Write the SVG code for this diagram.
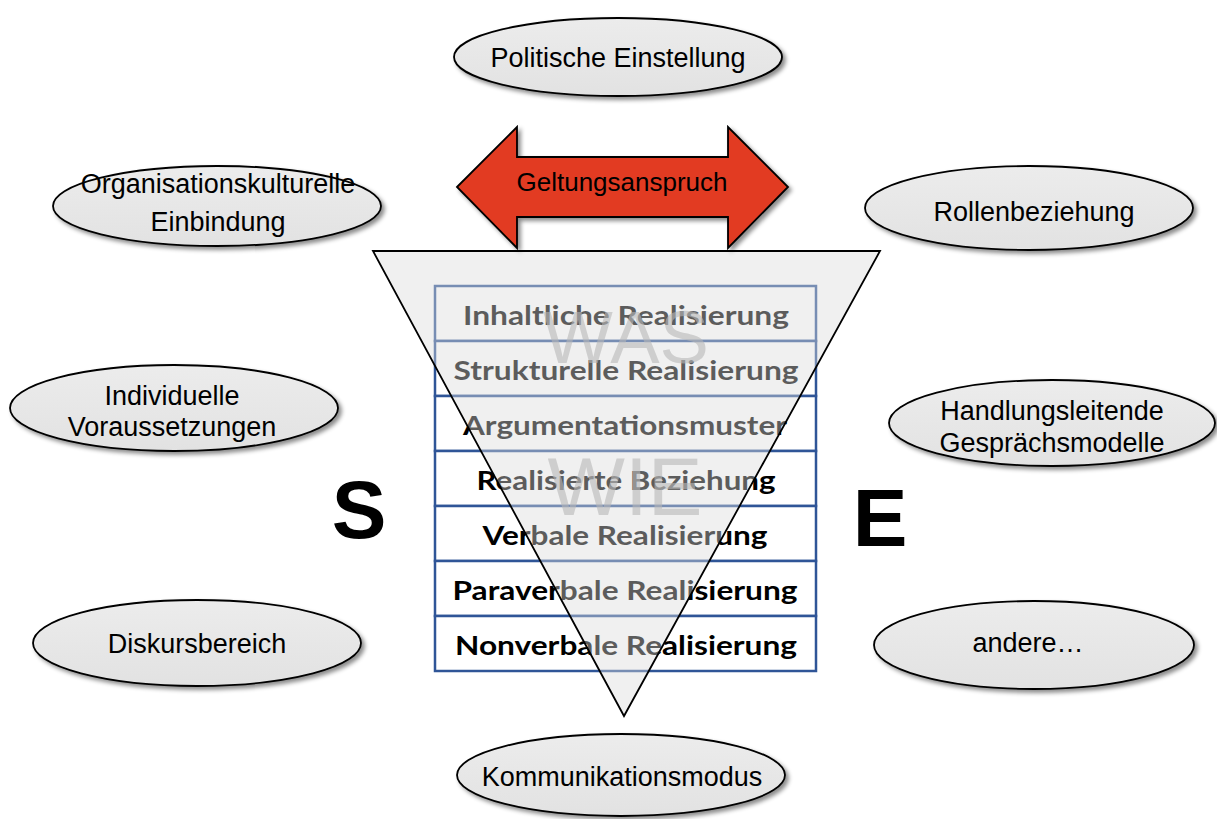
<svg xmlns="http://www.w3.org/2000/svg" width="1217" height="819" viewBox="0 0 1217 819">
  <defs>
    <filter id="shadow" x="-10%" y="-20%" width="125%" height="150%">
      <feDropShadow dx="3" dy="3" stdDeviation="2" flood-color="#000" flood-opacity="0.45"/>
    </filter>
    <linearGradient id="ellFill" x1="0" y1="0" x2="0" y2="1">
      <stop offset="0" stop-color="#ececec"/>
      <stop offset="1" stop-color="#e2e2e2"/>
    </linearGradient>
    <style>
      .ell { fill: url(#ellFill); stroke: #000; stroke-width: 1.8; filter: url(#shadow); }
      .lbl { font-family: "Liberation Sans", Arial, sans-serif; font-size: 27px; fill: #000; text-anchor: middle; }
      .big { font-family: "Liberation Sans", Arial, sans-serif; font-weight: bold; font-size: 82px; fill: #000; text-anchor: middle; }
      .cell { fill: #fff; stroke: #2f5597; stroke-width: 2.5; }
      .ctext { font-family: Lato, "Open Sans", sans-serif; font-weight: bold; font-size: 27px; fill: #000; text-anchor: middle; }
      .wm { font-family: "Liberation Sans", Arial, sans-serif; fill: #b8b8b8; fill-opacity: 0.6; text-anchor: middle; }
    </style>
  </defs>

  <g id="connectors"/>

  <g id="politische-einstellung">
    <ellipse class="ell" cx="618" cy="57" rx="164" ry="39"/>
    <text class="lbl" x="618" y="67">Politische Einstellung</text>
  </g>

  <g id="organisationskulturelle-einbindung">
    <ellipse class="ell" cx="217" cy="206" rx="164" ry="40"/>
    <text class="lbl" x="218" y="193">Organisationskulturelle</text>
    <text class="lbl" x="218" y="231">Einbindung</text>
  </g>

  <g id="individuelle-voraussetzungen">
    <ellipse class="ell" cx="174" cy="408" rx="164" ry="43"/>
    <text class="lbl" x="172" y="405">Individuelle</text>
    <text class="lbl" x="172" y="436">Voraussetzungen</text>
  </g>

  <g id="diskursbereich">
    <ellipse class="ell" cx="197" cy="643" rx="164" ry="43"/>
    <text class="lbl" x="197" y="653">Diskursbereich</text>
  </g>

  <g id="kommunikationsmodus">
    <ellipse class="ell" cx="621" cy="775" rx="164" ry="41"/>
    <text class="lbl" x="622" y="786">Kommunikationsmodus</text>
  </g>

  <g id="rollenbeziehung">
    <ellipse class="ell" cx="1029" cy="208" rx="164" ry="42"/>
    <text class="lbl" x="1034" y="221">Rollenbeziehung</text>
  </g>

  <g id="handlungsleitende-gespraechsmodelle">
    <ellipse class="ell" cx="1052" cy="423" rx="163" ry="43"/>
    <text class="lbl" x="1052" y="420">Handlungsleitende</text>
    <text class="lbl" x="1052" y="452">Gesprächsmodelle</text>
  </g>

  <g id="andere">
    <ellipse class="ell" cx="1034" cy="645" rx="160" ry="44"/>
    <text class="lbl" x="1028" y="652">andere…</text>
  </g>

  <g id="geltungsanspruch">
    <polygon points="457,187 517,127 517,157 728,157 728,127 788,187 728,248 728,217 517,217 517,248"
             fill="#e23b20" stroke="#000" stroke-width="1.8" stroke-linejoin="miter" filter="url(#shadow)"/>
    <text class="lbl" x="622" y="191" style="font-size:26px">Geltungsanspruch</text>
  </g>

  <g id="S">
    <text class="big" x="359" y="538">S</text>
  </g>
  <g id="E">
    <text class="big" x="880" y="546">E</text>
  </g>

  <g id="ebenen-tabelle">
    <rect class="cell" x="435" y="286" width="381" height="55"/>
    <rect class="cell" x="435" y="341" width="381" height="55"/>
    <rect class="cell" x="435" y="396" width="381" height="55"/>
    <rect class="cell" x="435" y="451" width="381" height="55"/>
    <rect class="cell" x="435" y="506" width="381" height="55"/>
    <rect class="cell" x="435" y="561" width="381" height="55"/>
    <rect class="cell" x="435" y="616" width="381" height="55"/>
    <text class="ctext" x="626" y="325" textLength="326" lengthAdjust="spacingAndGlyphs">Inhaltliche Realisierung</text>
    <text class="ctext" x="626" y="380" textLength="345" lengthAdjust="spacingAndGlyphs">Strukturelle Realisierung</text>
    <text class="ctext" x="625" y="435" textLength="324" lengthAdjust="spacingAndGlyphs">Argumentationsmuster</text>
    <text class="ctext" x="626" y="490" textLength="299" lengthAdjust="spacingAndGlyphs">Realisierte Beziehung</text>
    <text class="ctext" x="625" y="545" textLength="285" lengthAdjust="spacingAndGlyphs">Verbale Realisierung</text>
    <text class="ctext" x="625" y="600" textLength="345" lengthAdjust="spacingAndGlyphs">Paraverbale Realisierung</text>
    <text class="ctext" x="626" y="655" textLength="342" lengthAdjust="spacingAndGlyphs">Nonverbale Realisierung</text>
  </g>

  <g id="trichter">
    <polygon points="373,251 880,251 624,716" fill="#dcdcdc" fill-opacity="0.42" stroke="none"/>
    <text class="wm" x="626" y="363" style="font-size:74px">WAS</text>
    <text class="wm" x="625" y="515" style="font-size:82px">WIE</text>
    <polygon points="373,251 880,251 624,716" fill="none" stroke="#000" stroke-width="1.8" stroke-linejoin="miter"/>
  </g>
</svg>
